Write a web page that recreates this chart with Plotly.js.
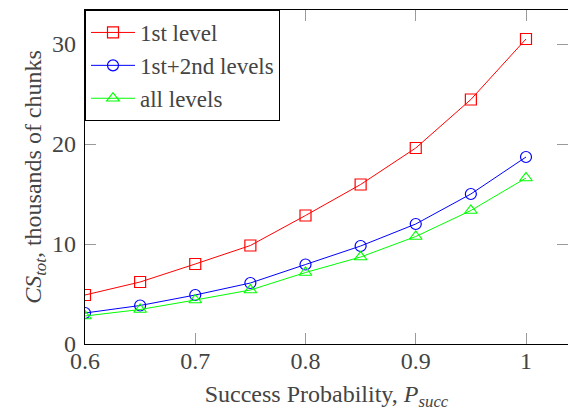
<!DOCTYPE html>
<html><head><meta charset="utf-8">
<script src="https://cdn.plot.ly/plotly-3.0.1.min.js"></script>
</head><body>
<div id="chart" style="position:absolute;left:0;top:0;width:568px;height:411px;background:#fff"></div>
<div style="position:absolute;left:-2000px;top:0;font-family:'Liberation Serif';font-size:24px">0.6 <i>P</i></div>
<script>
// Total chunk count (thousands) versus success probability
const successProb = [0.6, 0.65, 0.7, 0.75, 0.8, 0.85, 0.9, 0.95, 1.0];
const firstLevel = [4.9, 6.2, 8.0, 9.85, 12.85, 15.95, 19.6, 24.45, 30.5];
const firstSecondLevels = [3.1, 3.85, 4.9, 6.1, 7.95, 9.8, 12.0, 15.0, 18.7];
const allLevels = [2.8, 3.45, 4.4, 5.4, 7.15, 8.7, 10.75, 13.35, 16.6];
const seriesNames = ['1st level', '1st+2nd levels', 'all levels'];
const xTickVals = [0.6, 0.7, 0.8, 0.9, 1];
const xTickText = ['0.6', '0.7', '0.8', '0.9', '1'];
const yTickVals = [0, 10, 20, 30];

const serif = 'Liberation Serif';
const fontSize = 24;
const xRange = [0.6, 1.0381];
const yRange = [0, 33.4];

function series(y, name, color, symbol) {
  return {
    x: successProb, y: y, name: name, type: 'scatter', mode: 'lines+markers',
    line: {color: color, width: 1},
    marker: {symbol: symbol, size: 11, color: color, line: {color: color, width: 1.2}}
  };
}

const traces = [
  series(firstLevel, seriesNames[0], '#ff0000', 'square-open'),
  series(firstSecondLevels, seriesNames[1], '#0000ff', 'circle-open'),
  series(allLevels, seriesNames[2], '#00ff00', 'triangle-up-open'),
  // carrier for the right-hand tick axis
  {x: [successProb[0]], y: [yTickVals[0]], yaxis: 'y2', mode: 'markers',
   marker: {opacity: 0}, showlegend: false, hoverinfo: 'skip'}
];

const tickStyle = {ticks: 'inside', ticklen: 11, tickwidth: 1, tickcolor: '#9a9a9a'};

const layout = {
  width: 568, height: 411,
  margin: {l: 85, r: 0, t: 10, b: 67},
  paper_bgcolor: '#fff', plot_bgcolor: '#fff',
  font: {family: serif, size: fontSize},
  xaxis: Object.assign({
    range: xRange, tickvals: xTickVals, ticktext: xTickText,
    showline: true, mirror: 'ticks', linecolor: '#000', linewidth: 1.2,
    showgrid: false, zeroline: false,
    tickfont: {family: serif, size: fontSize}, ticklabelstandoff: -5,
    title: {text: 'Success Probability, <i>P</i><sub><i>succ</i></sub>', font: {family: serif, size: fontSize}, standoff: 13}
  }, tickStyle),
  yaxis: Object.assign({
    range: yRange, tickvals: yTickVals,
    showline: true, linecolor: '#000', linewidth: 1.2,
    showgrid: false, zeroline: false,
    tickfont: {family: serif, size: fontSize}, ticklabelstandoff: 3,
    title: {text: '<i>CS</i><sub><i>tot</i></sub>, thousands of chunks', font: {family: serif, size: fontSize}, standoff: 3}
  }, tickStyle),
  yaxis2: Object.assign({
    overlaying: 'y', side: 'right', range: yRange, tickvals: yTickVals,
    showticklabels: false, showline: false, showgrid: false, zeroline: false
  }, tickStyle),
  showlegend: true,
  legend: {
    x: 0, y: 1, xanchor: 'left', yanchor: 'top',
    bgcolor: '#fff', bordercolor: '#000', borderwidth: 1,
    font: {family: serif, size: 23},
    itemwidth: 44, traceorder: 'normal'
  }
};

// wait for the serif face (upright and italic) before drawing
const fontsReady = (document.fonts && document.fonts.load)
  ? Promise.all([
      document.fonts.load('24px "Liberation Serif"'),
      document.fonts.load('italic 24px "Liberation Serif"')
    ]).catch(() => null)
  : Promise.resolve();

fontsReady
  .then(() => Plotly.newPlot('chart', traces, layout, {displayModeBar: false}))
  .then(() => {
    document.querySelectorAll('#chart text').forEach(el => {
      el.style.setProperty('font-family', '"Liberation Serif", "Times New Roman", serif', 'important');
    });
  });
</script>
</body></html>
